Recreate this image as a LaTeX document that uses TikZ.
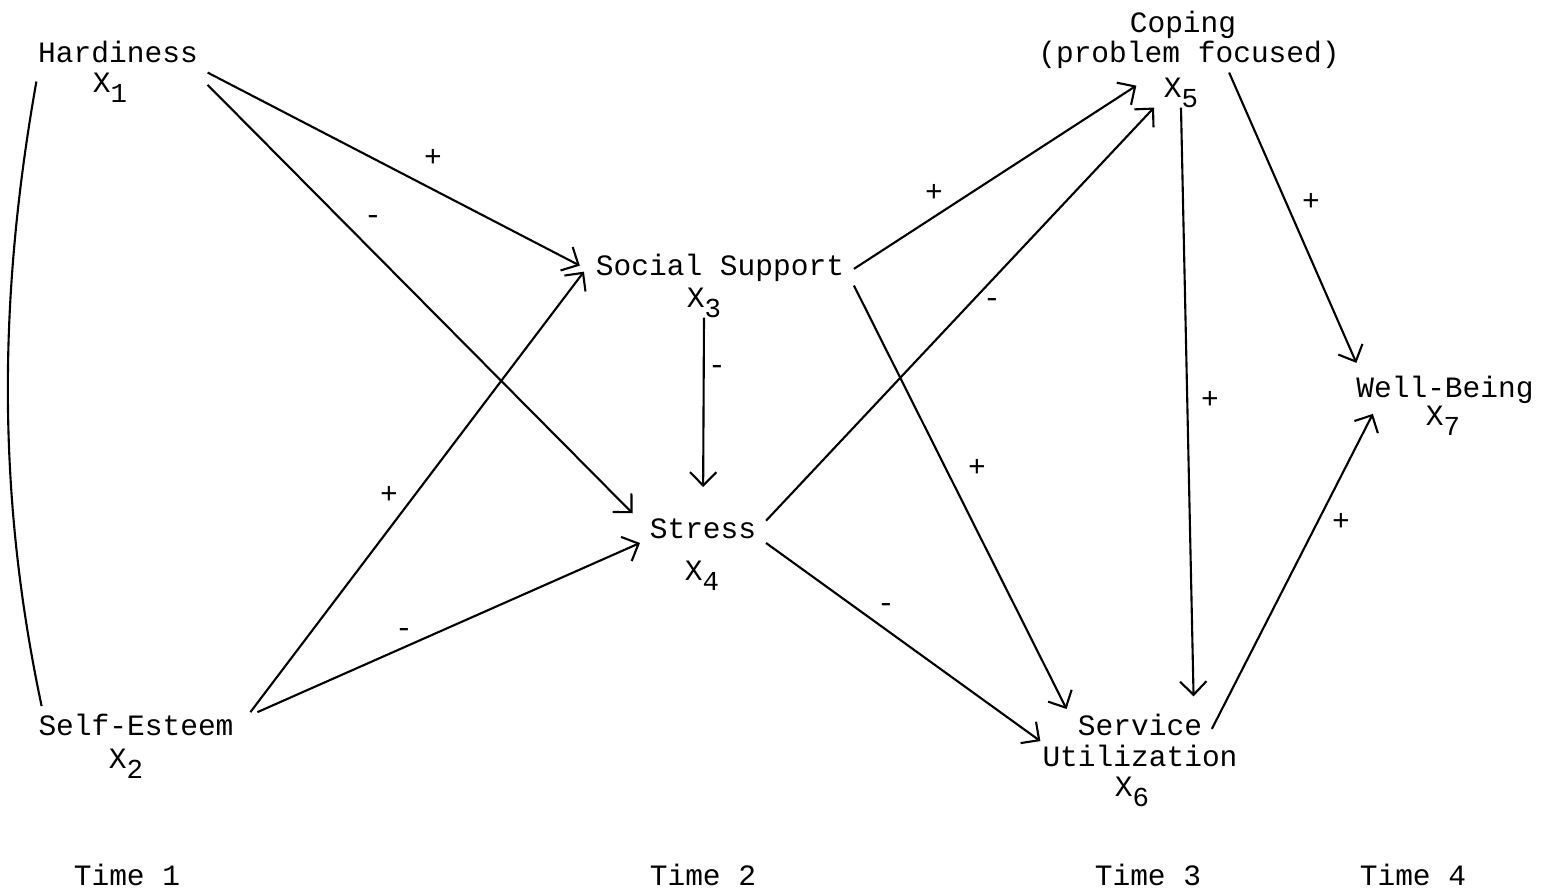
\documentclass[tikz,border=0pt]{standalone}
\usepackage{fontspec}
\setmainfont{Liberation Mono}
\usetikzlibrary{arrows.meta,calc}
\newcommand{\xsub}[1]{X\raisebox{-3pt}{\fontsize{7.8}{8}\selectfont#1}}
\tikzset{
	var/.style={anchor=base, inner xsep=2.5pt, inner ysep=1pt, text height=5.2pt, text depth=1.7pt},
	sign/.style={inner sep=0pt},
	arr/.style={line width=.6pt, -{Straight Barb[length=3.8pt,width=7.5pt]}}
}
\begin{document}
\begin{tikzpicture}[x=0.01cm, y=-0.01cm, font=\fontsize{8.4}{8.8}\selectfont, line width=.6pt]
	\useasboundingbox (0,0) rectangle (1541,890);
	\node[var] (hard) at (118,62) {Hardiness};
	\node[var] (x1) at (110,92) {\xsub{1}};
	\node[var] (self) at (136,735) {Self-Esteem};
	\node[var] (x2) at (126,768) {\xsub{2}};
	\node[var] (soc) at (720,275) {Social Support};
	\node[var] (x3) at (704,307) {\xsub{3}};
	\node[var] (stress) at (703,538) {Stress};
	\node[var] (x4) at (702,580) {\xsub{4}};
	\node[var] (cope) at (1183,32) {Coping};
	\node[var] (prob) at (1189,62) {(problem focused)};
	\node[var] (x5) at (1181,97) {\xsub{5}};
	\node[var] (wb) at (1445,397) {Well-Being};
	\node[var] (x7) at (1443,425) {\xsub{7}};
	\node[var] (serv) at (1140,735) {Service};
	\node[var] (util) at (1140,766) {Utilization};
	\node[var] (x6) at (1132,796) {\xsub{6}};
	\node[var] (t1) at (127,885) {Time 1};
	\node[var] (t2) at (703,885) {Time 2};
	\node[var] (t3) at (1148,885) {Time 3};
	\node[var] (t4) at (1413,885) {Time 4};
	\draw ([shift={(8,9)}]hard.south west) .. controls +(-39,220) and +(-44,-207) .. ([shift={(13,-6)}]self.north west);
	\draw[arr, shorten >=2pt] (hard.south east) -- (soc.west);
	\draw[arr, shorten >=3pt] ([yshift=-3.5pt]hard.south east) -- (stress.170);
	\draw[arr, shorten >=1pt] ([xshift=2pt]self.north east) -- (soc.west);
	\draw[arr] ([xshift=4pt]self.north east) -- (stress.190);
	\draw[arr, shorten >=8pt] (x3.south) -- (stress.north);
	\draw[arr, shorten >=6pt] (soc.east) -- (x5.north west);
	\draw[arr] (stress.10) -- (x5.south west);
	\draw[arr, shorten >=1pt] (soc.south east) -- (serv.north west);
	\draw[arr, shorten >=1pt] (stress.-10) -- ([xshift=3pt]util.north west);
	\draw[arr, shorten >=4.5pt] (x5.south) -- ($(serv.north)!.75!(serv.north east)$);
	\draw[arr, shorten >=3.5pt] ($(prob.south)!.25!(prob.south east)$) -- ($(wb.north west)!.15!(wb.north)$);
	\draw[arr, shorten >=2pt] (serv.east) -- ($(wb.south west)!.3!(wb.south)$);
	\node[sign] (s1) at (433,158) {+};
	\node[sign] (s2) at (373,220) {-};
	\node[sign] (s3) at (389,495) {+};
	\node[sign] (s4) at (404,633) {-};
	\node[sign] (s5) at (717,370) {-};
	\node[sign] (s6) at (934,193) {+};
	\node[sign] (s7) at (992,303) {-};
	\node[sign] (s8) at (977,468) {+};
	\node[sign] (s9) at (886,608) {-};
	\node[sign] (s10) at (1210,400) {+};
	\node[sign] (s11) at (1311,202) {+};
	\node[sign] (s12) at (1341,522) {+};
\end{tikzpicture}
\end{document}
